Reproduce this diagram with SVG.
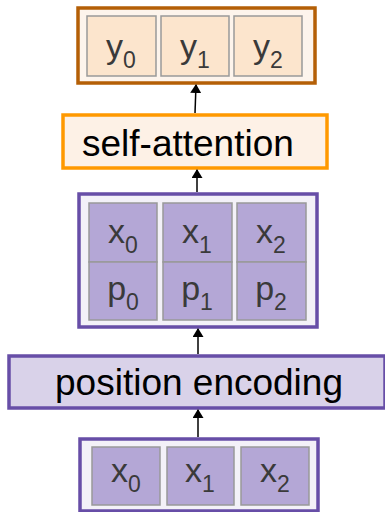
<svg xmlns="http://www.w3.org/2000/svg" width="385" height="512" viewBox="0 0 385 512">
<defs>
<style>
.lbl{font-family:"Liberation Sans",Arial,sans-serif;fill:#000;font-size:37px}
.cl{font-family:"Liberation Sans",Arial,sans-serif;fill:#3a3a3a;font-size:34px;text-anchor:middle}
.sub{font-size:23px}
.ycell{fill:#fce5cd;stroke:#999;stroke-width:1.5}
.pcell{fill:#b4a7d6;stroke:#999;stroke-width:1.5}
.conn{stroke:#000;stroke-width:1.5;fill:none}
</style>
<marker id="ah" markerWidth="9" markerHeight="11" refX="8" refY="5.5" orient="auto" markerUnits="userSpaceOnUse" viewBox="0 0 9 11">
<path d="M0,0 L9,5.5 L0,11 Z" fill="#000"/>
</marker>
</defs>
<rect width="385" height="512" fill="#fff"/>

<g id="outputs">
<rect x="78" y="8" width="237" height="75" fill="#fdf4ec" stroke="#b45f06" stroke-width="3.5"/>
<rect class="ycell" x="87" y="16" width="69" height="60"/>
<rect class="ycell" x="161" y="16" width="68" height="60"/>
<rect class="ycell" x="234" y="16" width="68" height="60"/>
<text class="cl" x="121" y="58">y<tspan class="sub" dy="10">0</tspan></text>
<text class="cl" x="195" y="58">y<tspan class="sub" dy="10">1</tspan></text>
<text class="cl" x="268" y="58">y<tspan class="sub" dy="10">2</tspan></text>
</g>

<g id="self-attention">
<rect x="63" y="115" width="264" height="53" fill="#fdf1e6" stroke="#ff9900" stroke-width="3.5"/>
<text class="lbl" x="82" y="156">self-attention</text>
</g>

<g id="encoded">
<rect x="79" y="194" width="238" height="133" fill="#f3f1f8" stroke="#674ea7" stroke-width="3.5"/>
<rect class="pcell" x="89" y="203" width="68" height="59"/>
<rect class="pcell" x="163" y="203" width="69" height="59"/>
<rect class="pcell" x="237" y="203" width="69" height="59"/>
<rect class="pcell" x="89" y="262" width="68" height="58"/>
<rect class="pcell" x="163" y="262" width="69" height="58"/>
<rect class="pcell" x="237" y="262" width="69" height="58"/>
<text class="cl" x="123" y="243">x<tspan class="sub" dy="10">0</tspan></text>
<text class="cl" x="197" y="243">x<tspan class="sub" dy="10">1</tspan></text>
<text class="cl" x="271" y="243">x<tspan class="sub" dy="10">2</tspan></text>
<text class="cl" x="123" y="300">p<tspan class="sub" dy="10">0</tspan></text>
<text class="cl" x="197" y="300">p<tspan class="sub" dy="10">1</tspan></text>
<text class="cl" x="271" y="300">p<tspan class="sub" dy="10">2</tspan></text>
</g>

<g id="position-encoding">
<rect x="9" y="356" width="376" height="52" fill="#d9d2e9" stroke="#674ea7" stroke-width="3.5"/>
<text class="lbl" x="55" y="395">position encoding</text>
</g>

<g id="inputs">
<rect x="80" y="439" width="238" height="72" fill="#f3f1f8" stroke="#674ea7" stroke-width="3.5"/>
<rect class="pcell" x="92" y="447" width="68" height="58"/>
<rect class="pcell" x="167" y="447" width="67" height="58"/>
<rect class="pcell" x="241" y="447" width="68" height="58"/>
<text class="cl" x="126" y="482">x<tspan class="sub" dy="10">0</tspan></text>
<text class="cl" x="200" y="482">x<tspan class="sub" dy="10">1</tspan></text>
<text class="cl" x="275" y="482">x<tspan class="sub" dy="10">2</tspan></text>
</g>

<g id="connectors">
<line class="conn" x1="195" y1="113" x2="196" y2="85" marker-end="url(#ah)"/>
<line class="conn" x1="197" y1="192" x2="197" y2="170" marker-end="url(#ah)"/>
<line class="conn" x1="198" y1="354" x2="198" y2="329" marker-end="url(#ah)"/>
<line class="conn" x1="198" y1="437" x2="198" y2="410" marker-end="url(#ah)"/>
</g>
</svg>
